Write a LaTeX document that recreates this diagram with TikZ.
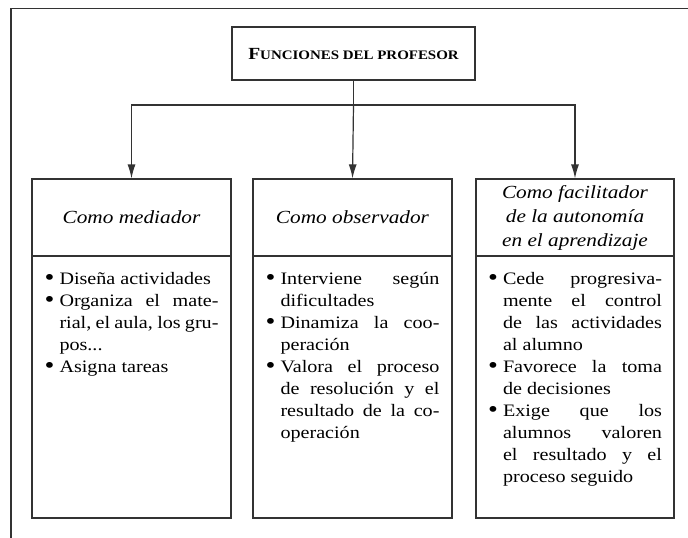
\documentclass[tikz,border=0pt]{standalone}
\usepackage{fontspec}
\setmainfont{Liberation Serif}[FakeStretch=1.15]
\usetikzlibrary{arrows.meta}
\usetikzlibrary{positioning}

\definecolor{framegray}{gray}{0.2}
\newcommand\itm[1]{\par\hangindent=15pt\hangafter=1\noindent
  \makebox[15pt][l]{\raisebox{-1.2pt}{\scalebox{1.4}{\textbullet}}}#1}

\begin{document}
\begin{tikzpicture}[x=1pt,y=-1pt,
    line width=1.2pt,draw=framegray,
    box/.style={draw,rectangle,inner sep=0pt,minimum width=199pt},
    head/.style={box,minimum height=77pt,align=center,
      font=\fontsize{18.5}{24}\selectfont\itshape},
    body/.style={box,minimum height=262pt},
    list/.style={text width=174pt,align=justify,inner sep=0pt,
      font=\fontsize{17.5}{22}\selectfont,
      execute at begin node={\hyphenpenalty=10000 \tolerance=10000 }},
    elbow/.style={to path={-| (\tikztotarget)}},
    >={Latex[length=14pt,width=8pt]}]

  \useasboundingbox (0,0) rectangle (688,538);

  \draw [framegray] (688,8.5) -- (11,8.5) -- (11,538);

  \node [box,minimum width=243pt,minimum height=53pt,font=\bfseries] (title) at (353.5,53.5)
    {{\fontsize{17}{17}\selectfont F}{\fontsize{13}{13}\selectfont UNCIONES DEL PROFESOR}};

  \node [head] (hMed) at (131.5,217.5) {Como mediador};
  \node [head] (hObs) at (352.5,217.5) {Como observador};
  \node [head,minimum width=198pt] (hFac) at (575,217.5) {Como facilitador\\de la autonomía\\en el aprendizaje};

  \node [body] (bMed) at (131.5,387) {};
  \node [body] (bObs) at (352.5,387) {};
  \node [body,minimum width=198pt] (bFac) at (575,387) {};

  \node [list,below=6pt of bMed.north] (lMed) {%
    \itm{Diseña actividades}
    \itm{Organiza el mate-\linebreak rial, el aula, los gru-\linebreak pos...}
    \itm{Asigna tareas}\par};
  \node [list,below=6pt of bObs.north] (lObs) {%
    \itm{Interviene según\linebreak dificultades}
    \itm{Dinamiza la coo-\linebreak peración}
    \itm{Valora el proceso\linebreak de resolución y el\linebreak resultado de la co-\linebreak operación}\par};
  \node [list,below=6pt of bFac.north] (lFac) {%
    \itm{Cede progresiva-\linebreak mente el control\linebreak de las actividades\linebreak al alumno}
    \itm{Favorece la toma\linebreak de decisiones}
    \itm{Exige que los\linebreak alumnos valoren\linebreak el resultado y el\linebreak proceso seguido}\par};

  \coordinate (fork) at (title.south |- 0,105);

  \draw (title.south) -- (fork);
  \path [->]
    (fork) edge [elbow] (hMed.north)
    (fork) edge (hObs.north)
    (fork) edge [elbow] (hFac.north);

\end{tikzpicture}
\end{document}
